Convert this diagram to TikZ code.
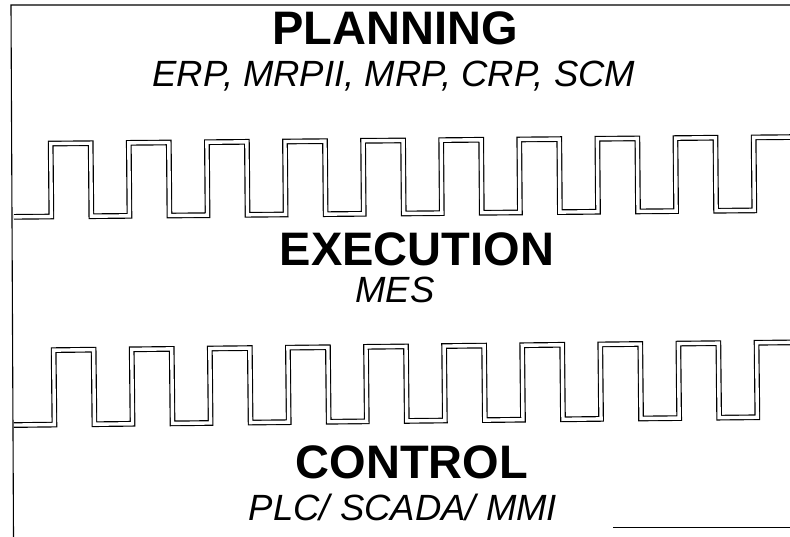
\documentclass[tikz,border=0pt]{standalone}
\usepackage{fontspec}
\setmainfont{Liberation Sans}
\usetikzlibrary{positioning}

\tikzset{
  layer/.style={font=\bfseries\fontsize{47}{50}\selectfont, inner sep=0pt, anchor=base},
  system/.style={font=\itshape\fontsize{36.5}{40}\selectfont, inner sep=0pt, anchor=base},
  wave/.style={line width=1.15pt, double=white, double distance=3.4pt, line join=miter},
  frame/.style={line width=1.1pt}
}

\begin{document}
\begin{tikzpicture}[x=1pt,y=-1pt]
    \useasboundingbox (0,0) rectangle (790,537);
    % frame
    \draw[frame] (790,5) -- (11,5) -- (13.5,537);
    \draw[frame] (613,527.5) -- (790,527.5);
    % headings and systems
    \node[layer]  (plan) at (395,45)  {PLANNING};
    \node[system] (plansys) at (394,87) {ERP, MRPII, MRP, CRP, SCM};
    \node[layer]  (exec) at (417,266) {EXECUTION};
    \node[system] (execsys) at (395,303) {MES};
    \node[layer]  (ctrl) at (412,478) {CONTROL};
    \node[system] (ctrlsys) at (403,520) {PLC/ SCADA/ MMI};
    % upper interface
    \begin{scope}[rotate around={0.5:(400,177)}]
      \draw[wave] (13.5,213.5)
        \foreach \k in {0,...,8} { -| ({51+78.1*\k},140.5) -| ({91+78.1*\k},213.5) }
        -| (754,140.5) -- (800,140.5);
    \end{scope}
    % lower interface
    \begin{scope}[rotate around={0.6:(400,384)}]
      \draw[wave] (13.5,421)
        \foreach \k in {0,...,8} { -| ({54+78.1*\k},346.5) -| ({94+78.1*\k},421) }
        -| (757,346.5) -- (800,346.5);
    \end{scope}
\end{tikzpicture}
\end{document}
